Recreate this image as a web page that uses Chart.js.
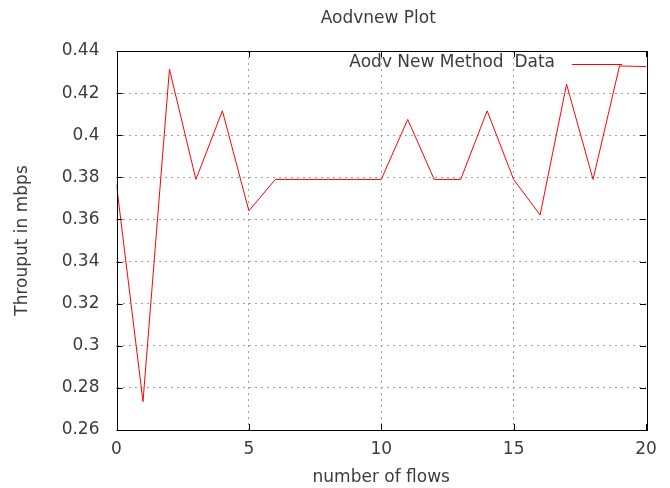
<!DOCTYPE html>
<html>
<head>
<meta charset="utf-8">
<title>Aodvnew Plot</title>
<script src="https://cdn.jsdelivr.net/npm/chart.js@4/dist/chart.umd.min.js"></script>
<style>
  html, body { margin: 0; padding: 0; background: #fff; }
  #plot { display: block; }
</style>
</head>
<body>
<canvas id="plot" width="670" height="488"></canvas>
<script>
// number of flows
const flows = [0, 1, 2, 3, 4, 5, 6, 7, 8, 9, 10, 11, 12, 13, 14, 15, 16, 17, 18, 19, 20];
// throughput (mbps) for the new AODV method
const throughput = [0.3765, 0.2735, 0.4313, 0.379, 0.4116, 0.3641, 0.379, 0.379, 0.379, 0.379, 0.379,
                    0.4075, 0.379, 0.379, 0.4116, 0.379, 0.3621, 0.4242, 0.379, 0.4329, 0.4326];
const xTicks = [0, 5, 10, 15, 20];
const yTicks = [0.26, 0.28, 0.3, 0.32, 0.34, 0.36, 0.38, 0.4, 0.42, 0.44];

const FONT = '"DejaVu Sans", sans-serif';
const SIZE = 17;
const TEXT = '#3c3c3c';

// gnuplot style frame: box, inward ticks, title and key
const framePlugin = {
    id: 'frame',
    afterDatasetsDraw(chart) {
        const ctx = chart.ctx;
        const a = chart.chartArea;
        const xs = chart.scales.x, ys = chart.scales.y;
        ctx.save();
        ctx.strokeStyle = '#000';
        ctx.lineWidth = 1;
        ctx.strokeRect(Math.round(a.left) + 0.5, Math.round(a.top) + 0.5,
                       Math.round(a.right - a.left), Math.round(a.bottom - a.top));
        ctx.beginPath();
        xTicks.forEach(v => {
            const px = Math.round(xs.getPixelForValue(v)) + 0.5;
            ctx.moveTo(px, a.bottom); ctx.lineTo(px, a.bottom - 6);
            ctx.moveTo(px, a.top); ctx.lineTo(px, a.top + 6);
        });
        yTicks.forEach(v => {
            const py = Math.round(ys.getPixelForValue(v)) + 0.5;
            ctx.moveTo(a.left, py); ctx.lineTo(a.left + 6, py);
            ctx.moveTo(a.right, py); ctx.lineTo(a.right - 6, py);
        });
        ctx.stroke();

        // title
        ctx.fillStyle = TEXT;
        ctx.font = SIZE + 'px ' + FONT;
        ctx.textAlign = 'center';
        ctx.textBaseline = 'middle';
        ctx.fillText('Aodvnew Plot', (a.left + a.right) / 2 - 3, 19);

        // key
        ctx.textAlign = 'right';
        ctx.fillText('Aodv New Method  Data', 555, 63);
        ctx.strokeStyle = '#ff0000';
        ctx.beginPath();
        ctx.moveTo(572, 64.5);
        ctx.lineTo(622, 64.5);
        ctx.stroke();
        ctx.restore();
    }
};

new Chart(document.getElementById('plot'), {
    type: 'line',
    data: {
        datasets: [{
            label: 'Aodv New Method  Data',
            data: flows.map((f, i) => ({ x: f, y: throughput[i] })),
            borderColor: '#ff0000',
            borderWidth: 1,
            pointRadius: 0,
            tension: 0,
            fill: false
        }]
    },
    options: {
        responsive: false,
        animation: false,
        layout: { padding: { left: 0, right: 24, top: 51, bottom: 0 } },
        plugins: {
            legend: { display: false },
            title: { display: false },
            tooltip: { enabled: false }
        },
        scales: {
            x: {
                type: 'linear',
                min: 0,
                max: 20,
                afterBuildTicks: s => { s.ticks = xTicks.map(v => ({ value: v })); },
                afterFit: s => { s.height = 58; },
                grid: {
                    color: ctx => (ctx.tick && (ctx.tick.value === 0 || ctx.tick.value === 20)) ? 'rgba(0,0,0,0)' : '#a0a0a0',
                    drawTicks: false
                },
                border: { display: false, dash: [2, 4] },
                ticks: {
                    color: TEXT,
                    font: { family: FONT, size: SIZE },
                    padding: 9,
                    maxRotation: 0
                },
                title: {
                    display: true,
                    text: 'number of flows',
                    color: TEXT,
                    font: { family: FONT, size: SIZE },
                    padding: { top: 3, bottom: 0 }
                }
            },
            y: {
                min: 0.26,
                max: 0.44,
                afterBuildTicks: s => { s.ticks = yTicks.map(v => ({ value: v })); },
                afterFit: s => { s.width = 116.5; },
                grid: {
                    color: ctx => (ctx.tick && (ctx.tick.value === 0.26 || ctx.tick.value === 0.44)) ? 'rgba(0,0,0,0)' : '#a0a0a0',
                    drawTicks: false
                },
                border: { display: false, dash: [2, 4] },
                ticks: {
                    color: TEXT,
                    font: { family: FONT, size: SIZE },
                    padding: 17,
                    callback: v => String(+v.toFixed(2))
                },
                title: {
                    display: true,
                    text: 'Throuput in mbps',
                    color: TEXT,
                    font: { family: FONT, size: SIZE },
                    padding: { top: 12, bottom: 0 }
                }
            }
        }
    },
    plugins: [framePlugin]
});
</script>
</body>
</html>
